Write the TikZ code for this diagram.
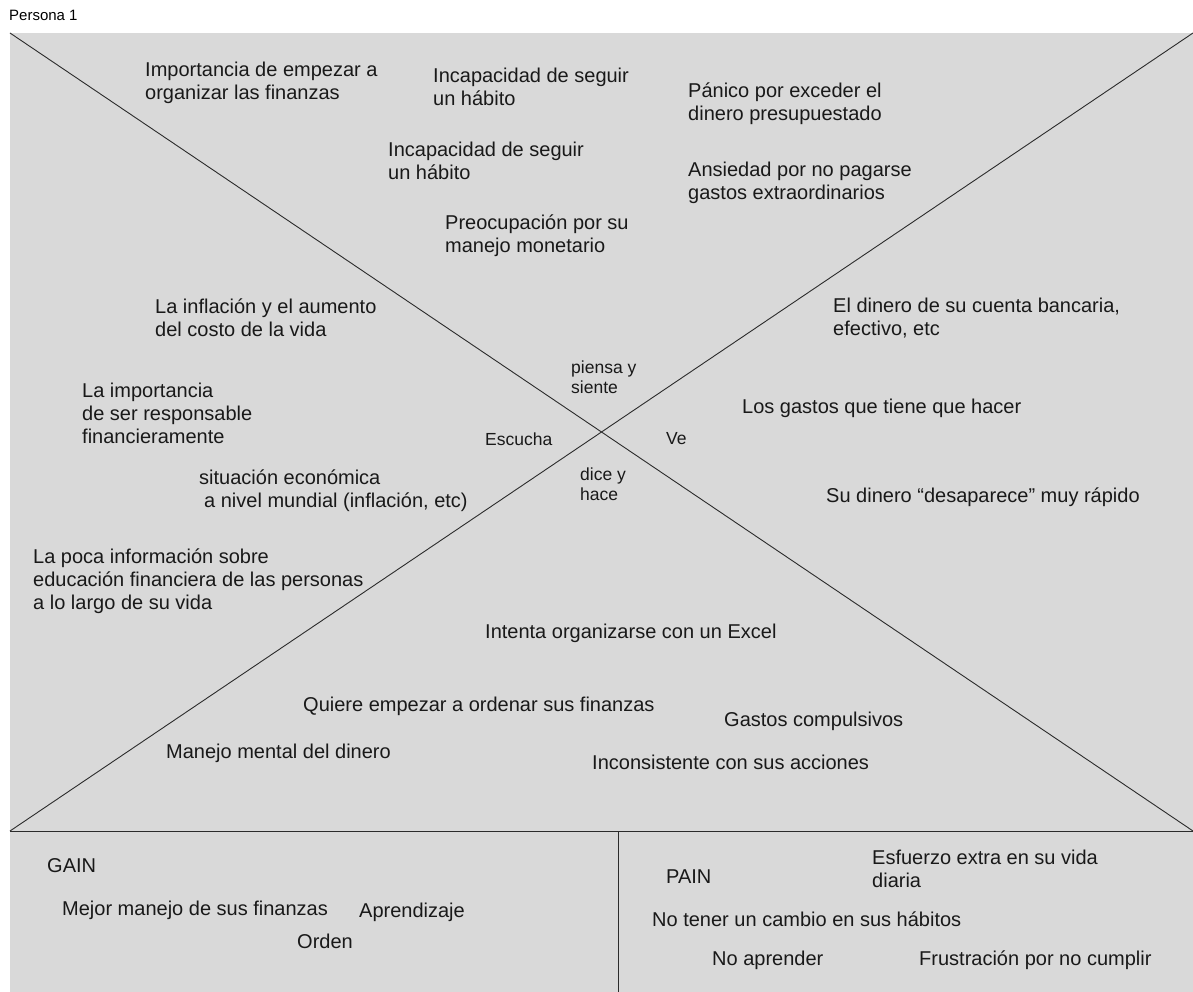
\documentclass[tikz,border=0pt]{standalone}
\usepackage{fontspec}
\setmainfont{Liberation Sans}
\usetikzlibrary{positioning}
\definecolor{panel}{HTML}{D9D9D9}
\definecolor{rule}{HTML}{2B2B2B}
\tikzset{
  note/.style={anchor=west, inner sep=0pt, align=left, yshift=-1.5pt, text=black!90, font=\fontsize{20}{23}\selectfont},
  tag/.style={anchor=west, inner sep=0pt, align=left, yshift=-1pt, text=black!90, font=\fontsize{17.5}{20}\selectfont},
}

\begin{document}
\begin{tikzpicture}[x=1pt,y=-1pt]
\useasboundingbox (0,0) rectangle (1193,992);
% Title
\node[anchor=west, inner sep=0pt, font=\fontsize{15}{18}\selectfont] (title) at (9,15) {Persona 1};
% Panel and corners
\fill[panel] (10,33) rectangle (1193,992);
\coordinate (tl) at (10,33);
\coordinate (tr) at (1193,33);
\coordinate (bl) at (10,831);
\coordinate (br) at (1193,831);
\coordinate (split) at (618,831);
\coordinate (foot) at (618,992);
% Empathy map cross
\draw[rule, line width=0.9pt] (tl) -- (br);
\draw[rule, line width=0.9pt] (tr) -- (bl);
\draw[rule, line width=0.9pt] (bl) -- (br);
\draw[rule, line width=0.7pt] (split) -- (foot);
% Quadrant labels
\node[tag] (piensa) at (571,376) {piensa y\\siente};
\node[tag] (escucha) at (485,438) {Escucha};
\node[tag] (ve) at (666,438) {Ve};
\node[tag] (dice) at (580,483) {dice y\\hace};
% Piensa y siente
\node[note] (p1) at (145,81.5) {Importancia de empezar a\\organizar las finanzas};
\node[note] (p2) at (433,85.5) {Incapacidad de seguir\\un hábito};
\node[note] (p3) at (688,102.5) {Pánico por exceder el\\dinero presupuestado};
\node[note] (p4) at (388,159.5) {Incapacidad de seguir\\un hábito};
\node[note] (p5) at (688,181.5) {Ansiedad por no pagarse\\gastos extraordinarios};
\node[note] (p6) at (445,234.5) {Preocupación por su\\manejo monetario};
% Escucha
\node[note] (e1) at (155,316.5) {La inflación y el aumento\\del costo de la vida};
\node[note] (e2) at (82,412) {La importancia\\de ser responsable\\financieramente};
\node[note] (e3) at (199,489.5) {situación económica\\\hspace{5pt}a nivel mundial (inflación, etc)};
\node[note] (e4) at (33,580) {La poca información sobre\\educación financiera de las personas\\a lo largo de su vida};
% Ve
\node[note] (v1) at (833,316.5) {El dinero de su cuenta bancaria,\\efectivo, etc};
\node[note] (v2) at (742,407) {Los gastos que tiene que hacer};
\node[note] (v3) at (826,496) {Su dinero “desaparece” muy rápido};
% Dice y hace
\node[note] (d1) at (485,632) {Intenta organizarse con un Excel};
\node[note] (d2) at (303,705) {Quiere empezar a ordenar sus finanzas};
\node[note] (d3) at (724,720) {Gastos compulsivos};
\node[note] (d4) at (166,752) {Manejo mental del dinero};
\node[note] (d5) at (592,761) {Inconsistente con sus acciones};
% Gain
\node[note] (gain) at (47,864) {GAIN};
\node[note] (g1) at (62,909) {Mejor manejo de sus finanzas};
\node[note] (g2) at (359,911) {Aprendizaje};
\node[note] (g3) at (297,940) {Orden};
% Pain
\node[note] (pain) at (666,875) {PAIN};
\node[note] (n1) at (872,867.5) {Esfuerzo extra en su vida\\diaria};
\node[note] (n2) at (652,918) {No tener un cambio en sus hábitos};
\node[note] (n3) at (712,959) {No aprender};
\node[note] (n4) at (919,959) {Frustración por no cumplir};
\end{tikzpicture}
\end{document}
